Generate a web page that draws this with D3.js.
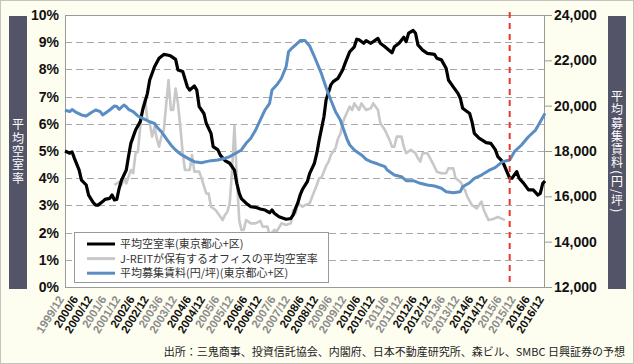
<!DOCTYPE html>
<html><head><meta charset="utf-8">
<script src="https://cdn.jsdelivr.net/npm/d3@7"></script>
<style>
html,body{margin:0;padding:0;background:#fefef0;}
svg{display:block;}
</style></head>
<body>
<svg id="chart" width="634" height="364"></svg>
<script>
// ---- data ----
const tickLabels = ["1999/12","2000/6","2000/12","2001/6","2001/12","2002/6","2002/12","2003/6","2003/12","2004/6","2004/12","2005/6","2005/12","2006/6","2006/12","2007/6","2007/12","2008/6","2008/12","2009/6","2009/12","2010/6","2010/12","2011/6","2011/12","2012/6","2012/12","2013/6","2013/12","2014/6","2014/12","2015/6","2015/12","2016/6","2016/12"];
const leftTicks = [0,1,2,3,4,5,6,7,8,9,10];
const rightTicks = [12000,14000,16000,18000,20000,22000,24000];
const forecastStart = "2015/9";
const seriesNames = ["平均空室率(東京都心+区)","J-REITが保有するオフィスの平均空室率","平均募集賃料(円/坪)(東京都心+区)"];
const leftTitle = "平均空室率";
const rightTitle = "平均募集賃料(円/坪)";

const vacancy = [["1999/12",5.00],["2000/2",4.92],["2000/3",4.97],["2000/4",4.73],["2000/6",4.30],["2000/7",3.93],["2000/9",3.75],["2000/10",3.38],["2000/12",3.10],["2001/1",3.01],["2001/2",3.01],["2001/4",3.14],["2001/5",3.22],["2001/7",3.26],["2001/8",3.38],["2001/9",3.20],["2001/10",3.22],["2001/11",3.63],["2001/12",3.93],["2002/2",4.30],["2002/3",4.79],["2002/4",5.28],["2002/6",5.77],["2002/8",6.08],["2002/9",6.51],["2002/11",7.12],["2002/12",7.61],["2003/2",8.10],["2003/4",8.41],["2003/6",8.55],["2003/8",8.52],["2003/9",8.49],["2003/11",8.37],["2003/12",7.98],["2004/2",7.92],["2004/4",7.36],["2004/5",7.24],["2004/7",7.39],["2004/8",7.24],["2004/9",6.63],["2004/11",6.38],["2004/12",6.02],["2005/2",5.65],["2005/3",5.16],["2005/5",5.04],["2005/6",4.85],["2005/8",4.65],["2005/10",4.55],["2005/12",4.30],["2006/1",3.81],["2006/2",3.45],["2006/3",3.25],["2006/5",3.08],["2006/7",2.95],["2006/9",2.93],["2006/11",2.87],["2007/1",2.83],["2007/3",2.73],["2007/4",2.83],["2007/5",2.71],["2007/7",2.58],["2007/10",2.49],["2007/12",2.52],["2008/1",2.65],["2008/2",2.90],["2008/3",3.10],["2008/4",3.40],["2008/5",3.60],["2008/7",3.87],["2008/8",4.18],["2008/10",4.55],["2008/11",4.92],["2008/12",5.40],["2009/2",6.26],["2009/3",6.88],["2009/5",7.43],["2009/6",7.55],["2009/8",7.67],["2009/10",7.98],["2009/11",8.22],["2010/1",8.65],["2010/3",8.83],["2010/4",9.11],["2010/5",9.09],["2010/7",8.96],["2010/8",9.06],["2010/10",8.96],["2010/11",9.02],["2011/1",9.14],["2011/2",8.96],["2011/4",8.83],["2011/7",8.61],["2011/8",8.83],["2011/10",8.96],["2011/12",9.18],["2012/1",9.02],["2012/2",9.33],["2012/4",9.43],["2012/5",9.33],["2012/6",8.90],["2012/8",8.71],["2012/10",8.59],["2013/1",8.55],["2013/2",8.41],["2013/4",8.35],["2013/6",8.04],["2013/7",7.61],["2013/9",7.36],["2013/11",7.12],["2013/12",6.94],["2014/1",6.57],["2014/4",6.38],["2014/5",6.08],["2014/6",5.65],["2014/8",5.47],["2014/11",5.31],["2015/1",5.28],["2015/3",5.04],["2015/4",4.79],["2015/6",4.61],["2015/7",4.42],["2015/9",4.00],["2015/10",4.00],["2015/12",4.24],["2016/1",4.00],["2016/3",3.81],["2016/5",3.57],["2016/7",3.57],["2016/9",3.38],["2016/10",3.44],["2016/11",3.80],["2016/12",3.90]];

const jreitVacancy = [["2001/9",3.75],["2001/11",3.87],["2001/12",3.75],["2002/1",4.00],["2002/2",3.81],["2002/4",4.30],["2002/5",4.18],["2002/6",4.92],["2002/7",4.97],["2002/8",5.89],["2002/9",6.63],["2002/10",6.92],["2002/11",6.14],["2002/12",6.02],["2003/1",5.53],["2003/2",5.89],["2003/3",5.47],["2003/4",5.16],["2003/5",5.53],["2003/6",5.77],["2003/8",7.61],["2003/9",6.51],["2003/10",6.51],["2003/11",7.30],["2003/12",6.75],["2004/1",5.89],["2004/2",4.92],["2004/3",4.30],["2004/5",4.30],["2004/6",4.85],["2004/7",4.24],["2004/9",4.24],["2004/10",4.00],["2004/12",3.44],["2005/1",3.44],["2005/2",2.95],["2005/4",2.83],["2005/5",2.71],["2005/7",2.46],["2005/8",2.65],["2005/9",2.77],["2005/10",3.08],["2005/11",4.30],["2005/12",5.93],["2006/1",4.06],["2006/2",2.46],["2006/3",2.10],["2006/4",2.10],["2006/5",2.46],["2006/7",2.34],["2006/9",2.34],["2006/11",2.43],["2006/12",2.22],["2007/2",2.22],["2007/3",1.91],["2007/5",2.10],["2007/6",2.04],["2007/8",2.34],["2007/10",2.28],["2007/12",2.34],["2008/1",2.83],["2008/2",2.71],["2008/3",3.08],["2008/5",2.95],["2008/6",3.01],["2008/8",3.08],["2008/9",3.32],["2008/11",3.75],["2008/12",4.00],["2009/1",4.03],["2009/3",4.45],["2009/4",4.60],["2009/5",4.85],["2009/7",5.10],["2009/8",5.45],["2009/9",5.62],["2009/10",6.02],["2009/11",6.26],["2010/1",6.63],["2010/2",6.51],["2010/3",6.75],["2010/5",6.51],["2010/6",6.75],["2010/8",6.51],["2010/10",6.57],["2010/11",6.75],["2011/1",6.51],["2011/2",6.02],["2011/4",5.77],["2011/6",5.40],["2011/7",5.16],["2011/8",5.16],["2011/9",5.53],["2011/11",5.53],["2011/12",5.16],["2012/1",4.92],["2012/3",5.04],["2012/5",4.92],["2012/6",4.73],["2012/7",4.61],["2012/8",4.92],["2012/10",4.92],["2012/12",4.60],["2013/1",4.42],["2013/2",4.24],["2013/4",4.18],["2013/6",4.18],["2013/7",4.36],["2013/9",4.36],["2013/10",4.00],["2013/12",3.87],["2014/2",3.55],["2014/3",3.32],["2014/5",3.01],["2014/7",2.89],["2014/9",3.14],["2014/10",2.83],["2014/12",2.46],["2015/2",2.50],["2015/4",2.58],["2015/7",2.46]];

const askingRent = [["1999/12",19800],["2000/2",19740],["2000/3",19830],["2000/5",19690],["2000/7",19590],["2000/9",19545],["2000/11",19690],["2001/1",19810],["2001/3",19735],["2001/4",19590],["2001/7",19810],["2001/9",19985],["2001/10",19960],["2001/11",19840],["2002/1",20030],["2002/2",19950],["2002/3",19840],["2002/5",19735],["2002/7",19545],["2002/9",19440],["2002/12",19290],["2003/2",19220],["2003/3",19070],["2003/5",18850],["2003/7",18560],["2003/9",18265],["2003/11",18045],["2004/1",17870],["2004/3",17750],["2004/5",17630],["2004/7",17530],["2004/10",17485],["2004/12",17530],["2005/2",17575],["2005/5",17600],["2005/8",17680],["2005/10",17750],["2005/12",17870],["2006/3",18045],["2006/5",18340],["2006/7",18560],["2006/9",18925],["2006/11",19370],["2007/1",19810],["2007/3",20105],["2007/4",20690],["2007/6",20910],["2007/8",21210],["2007/10",21720],["2007/11",22380],["2007/12",22490],["2008/2",22680],["2008/4",22870],["2008/6",22870],["2008/8",22630],["2008/10",22160],["2009/1",21400],["2009/3",20800],["2009/5",20250],["2009/7",19735],["2009/9",19370],["2009/10",19070],["2009/12",18485],["2010/1",18265],["2010/3",18045],["2010/6",17825],["2010/8",17630],["2010/10",17530],["2011/1",17425],["2011/4",17310],["2011/5",17160],["2011/8",16940],["2011/11",16865],["2012/1",16690],["2012/4",16690],["2012/7",16575],["2012/10",16500],["2013/1",16455],["2013/4",16355],["2013/6",16205],["2013/9",16160],["2013/12",16205],["2014/1",16425],["2014/4",16600],["2014/6",16795],["2014/9",16940],["2014/12",17130],["2015/3",17280],["2015/6",17530],["2015/9",17600],["2015/11",17970],["2016/2",18265],["2016/5",18630],["2016/8",18925],["2016/10",19290],["2016/12",19660]];

// ---- drawing ----
const W = 634, H = 364;
const m = {left: 65, right: 545, top: 15, bottom: 287};
const parse = d3.timeParse("%Y/%m");
const svg = d3.select("#chart");
const jpFont = "'Noto Sans CJK JP','Noto Sans',sans-serif";
const numFont = "'Liberation Sans',Arial,sans-serif";

svg.append("rect").attr("x",0.5).attr("y",0.5).attr("width",W-1).attr("height",H-1)
  .attr("fill","#fefef0").attr("stroke","#c4c4bc");

const x = d3.scaleTime().domain([parse(tickLabels[0]), parse(tickLabels[tickLabels.length-1])]).range([m.left, m.right]);
const yL = d3.scaleLinear().domain([0,10]).range([m.bottom, m.top]);
const yR = d3.scaleLinear().domain([12000,24000]).range([m.bottom, m.top]);

// side bars with vertical titles (single vertical text element each)
[[9,leftTitle],[608,rightTitle]].forEach(([bx,label]) => {
  svg.append("rect").attr("x",bx).attr("y",16).attr("width",18).attr("height",273).attr("fill","#545468");
  svg.append("text").attr("x",bx+9).attr("y",(m.top+m.bottom)/2+1)
    .attr("text-anchor","middle")
    .attr("writing-mode","vertical-rl")
    .style("writing-mode","vertical-rl").style("text-orientation","mixed")
    .style("letter-spacing","1.3px")
    .attr("fill","#fff").attr("font-family",jpFont).attr("font-size",12)
    .text(label);
});

// plot background
svg.append("rect").attr("x",m.left).attr("y",m.top).attr("width",m.right-m.left).attr("height",m.bottom-m.top)
  .attr("fill","#fff");

// gridlines
svg.append("g").selectAll("line").data(leftTicks.filter(d=>d>0 && d<10)).join("line")
  .attr("x1",m.left).attr("x2",m.right).attr("y1",d=>Math.round(yL(d))+0.5).attr("y2",d=>Math.round(yL(d))+0.5)
  .attr("stroke","#a8a8a8").attr("stroke-width",1).attr("stroke-dasharray","7,4");

// plot border
svg.append("rect").attr("x",m.left+0.5).attr("y",m.top+0.5).attr("width",m.right-m.left-1).attr("height",m.bottom-m.top)
  .attr("fill","none").attr("stroke","#9a9a9a");

// left axis
const gL = svg.append("g").attr("transform",`translate(${m.left},0)`)
  .call(d3.axisLeft(yL).tickValues(leftTicks).tickFormat(d=>d+"%").tickSize(0).tickPadding(6));
gL.select(".domain").remove();
gL.selectAll("text").attr("font-family",numFont).attr("font-weight","bold").attr("font-size",14).attr("fill","#111");

// right axis
const gR = svg.append("g").attr("transform",`translate(${m.right},0)`)
  .call(d3.axisRight(yR).tickValues(rightTicks).tickFormat(d3.format(",")).tickSize(7).tickPadding(2));
gR.select(".domain").remove();
gR.selectAll("line").attr("stroke","#9a9a9a");
gR.selectAll("text").attr("font-family",numFont).attr("font-weight","bold").attr("font-size",14).attr("fill","#111");

// x axis
const gX = svg.append("g").attr("transform",`translate(0,${m.bottom})`)
  .call(d3.axisBottom(x).tickValues(tickLabels.map(parse)).tickFormat((d,i)=>tickLabels[i]).tickSize(0).tickPadding(0));
gX.select(".domain").remove();
gX.selectAll("text")
  .attr("font-family",numFont).attr("font-weight","bold").attr("font-size",11.5)
  .attr("text-anchor","end").attr("dy",0).attr("y",0)
  .attr("transform","translate(-1,12) rotate(-58)")
  .attr("fill",(d,i)=> (+tickLabels[i].split("/")[0]) % 2 === 0 ? "#111" : "#8c8c8c");

// lines
const line = (yScale) => d3.line().x(d=>x(parse(d[0]))).y(d=>yScale(d[1])).curve(d3.curveLinear);
svg.append("path").datum(jreitVacancy).attr("d",line(yL)).attr("fill","none")
  .attr("stroke","#c8c8c8").attr("stroke-width",2.6).attr("stroke-linejoin","round");
svg.append("path").datum(vacancy).attr("d",line(yL)).attr("fill","none")
  .attr("stroke","#000").attr("stroke-width",3.2).attr("stroke-linejoin","round");
svg.append("path").datum(askingRent).attr("d",line(yR)).attr("fill","none")
  .attr("stroke","#5a8dc3").attr("stroke-width",3).attr("stroke-linejoin","round");

// forecast line
svg.append("line").attr("x1",x(parse(forecastStart))).attr("x2",x(parse(forecastStart)))
  .attr("y1",12).attr("y2",m.bottom).attr("stroke","#e8372b").attr("stroke-width",2).attr("stroke-dasharray","6,5");

// legend
const lg = svg.append("g");
lg.append("rect").attr("x",74.5).attr("y",232.5).attr("width",254).attr("height",50)
  .attr("fill","#fff").attr("stroke","#9a9a9a");
const legendColors = ["#000","#c8c8c8","#5a8dc3"];
seriesNames.forEach((name,i) => {
  const ly = 244 + i*14.6;
  lg.append("line").attr("x1",87).attr("x2",115).attr("y1",ly).attr("y2",ly)
    .attr("stroke",legendColors[i]).attr("stroke-width",3);
  lg.append("text").attr("x",120).attr("y",ly+4).attr("font-family",jpFont).attr("font-size",11)
    .attr("fill","#333").text(name);
});

// source
svg.append("text").attr("x",625).attr("y",356).attr("text-anchor","end")
  .attr("font-family",jpFont).attr("font-size",11).attr("fill","#222")
  .text("出所：三鬼商事、投資信託協会、内閣府、日本不動産研究所、森ビル、SMBC 日興証券の予想");
</script>
</body></html>
